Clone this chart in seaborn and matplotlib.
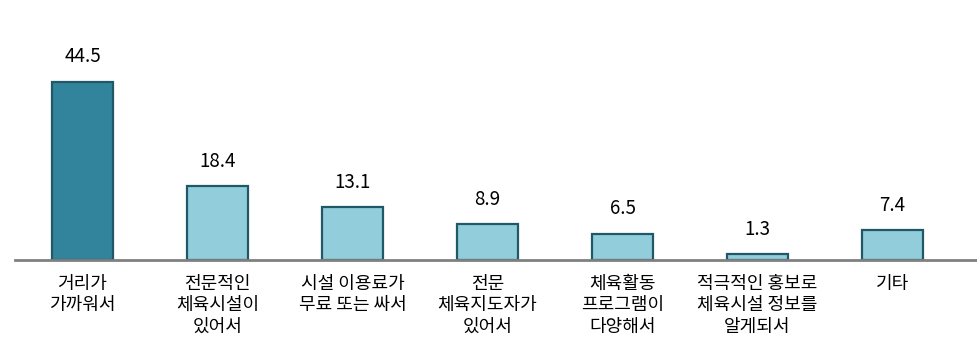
import matplotlib
matplotlib.use("Agg")
import matplotlib.pyplot as plt
import seaborn as sns
import pandas as pd

categories = ["거리가\n가까워서", "전문적인\n체육시설이\n있어서", "시설 이용료가\n무료 또는 싸서",
              "전문\n체육지도자가\n있어서", "체육활동\n프로그램이\n다양해서",
              "적극적인 홍보로\n체육시설 정보를\n알게되서", "기타"]
values = [44.5, 18.4, 13.1, 8.9, 6.5, 1.3, 7.4]

sns.set_theme(style="white")
plt.rcParams['font.family'] = ['Noto Sans CJK KR', 'DejaVu Sans']

df = pd.DataFrame({"cat": categories, "val": values})
colors = ["#31849B"] + ["#92CDDC"] * (len(values) - 1)

fig = plt.figure(figsize=(9.78, 3.46), dpi=100)
ax = fig.add_axes([15/978, (346-259.5)/346, (978-15)/978, 200/346])
sns.barplot(data=df, x="cat", y="val", hue="cat", palette=colors, legend=False,
            width=0.45, edgecolor="#215868", linewidth=1.6, ax=ax, saturation=1)

for i, v in enumerate(values):
    ax.text(i, v + 3.5, f"{v:.1f}", ha="center", va="bottom", fontsize=13.5, color="#000000")

ax.set_xlim(-0.5, 6.633)
ax.set_ylim(0, 50)
ax.set_xlabel("")
ax.set_ylabel("")
ax.set_yticks([])
for s in ["top", "right", "left"]:
    ax.spines[s].set_visible(False)
ax.spines["bottom"].set_color("#808080")
ax.spines["bottom"].set_linewidth(2)
ax.tick_params(axis="x", length=0, pad=11, labelsize=13, labelcolor="#000000")
for lbl in ax.get_xticklabels():
    lbl.set_linespacing(1.25)
    lbl.set_verticalalignment("top")

fig.savefig("out.png", dpi=100, facecolor="white")
